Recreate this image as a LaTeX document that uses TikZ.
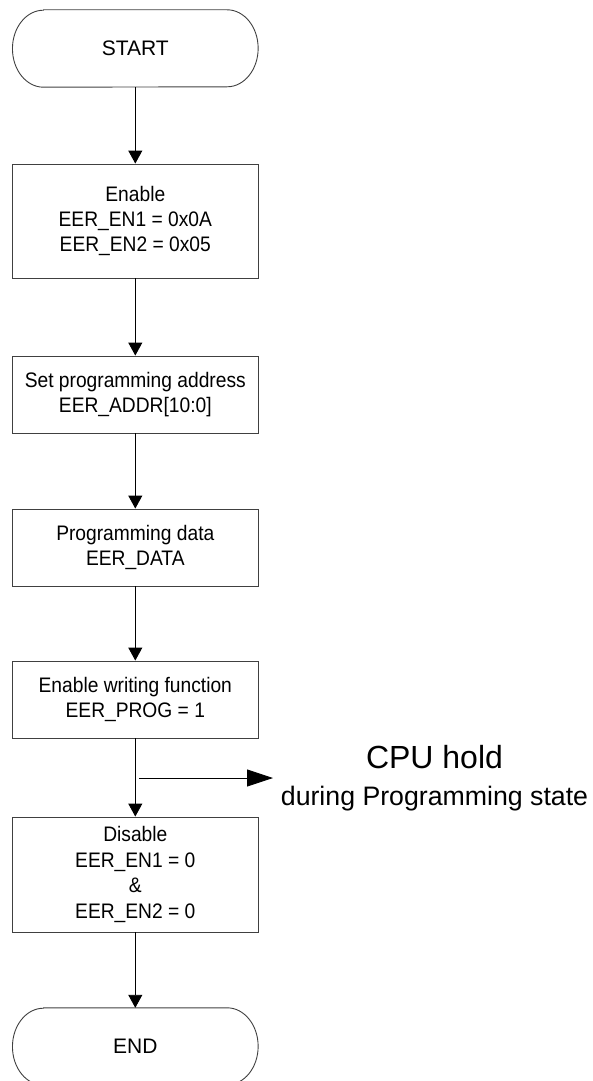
\documentclass[tikz,border=0pt]{standalone}
\usepackage{fontspec}
\setmainfont{Liberation Sans}
\newfontfamily\boxfont{Liberation Sans}[FakeStretch=0.915]
\usetikzlibrary{arrows.meta}
\begin{document}
\begin{tikzpicture}[x=1pt,y=-1pt,
  box/.style={draw=black!75, line width=0.9pt, minimum width=245.3pt, inner sep=0pt, align=center, font=\boxfont\fontsize{21}{25.4}\selectfont},
  term/.style={minimum width=245.3pt, minimum height=77pt, inner sep=0pt, font=\fontsize{21}{25.4}\selectfont},
  pill/.style={draw=black!75, line width=0.9pt},
  flow/.style={line width=0.9pt, -{Triangle[length=13pt,width=14pt]}},
  bigflow/.style={line width=0.9pt, -{Triangle[length=26pt,width=17pt]}},
]
\useasboundingbox (0,0) rectangle (593,1081);
\node[term] (start) at (135.3,48.5) {START};
\draw[pill] ([xshift=31pt]start.north west) -- ([xshift=-31pt]start.north east)
  arc[start angle=90,end angle=-90,x radius=31pt,y radius=38.5pt]
  -- ([xshift=31pt]start.south west)
  arc[start angle=270,end angle=90,x radius=31pt,y radius=38.5pt] -- cycle;

\node[box, minimum height=114pt] (en) at (135.3,221) {Enable\\EER\_EN1 = 0x0A\\EER\_EN2 = 0x05};
\node[box, minimum height=77pt] (addr) at (135.3,394.5) {Set programming address\\EER\_ADDR[10:0]};
\node[box, minimum height=77pt] (data) at (135.3,547.5) {Programming data\\EER\_DATA};
\node[box, minimum height=77pt] (prog) at (135.3,699.5) {Enable writing function\\EER\_PROG = 1};
\node[box, minimum height=115pt] (dis) at (135.3,874.5) {Disable\\EER\_EN1 = 0\\\&\\EER\_EN2 = 0};

\node[term] (end) at (135.3,1046.5) {END};
\draw[pill] ([xshift=31pt]end.north west) -- ([xshift=-31pt]end.north east)
  arc[start angle=90,end angle=-90,x radius=31pt,y radius=38.5pt]
  -- ([xshift=31pt]end.south west)
  arc[start angle=270,end angle=90,x radius=31pt,y radius=38.5pt] -- cycle;

\draw[flow] (start) -- (en);
\draw[flow] (en) -- (addr);
\draw[flow] (addr) -- (data);
\draw[flow] (data) -- (prog);
\draw[flow] (prog) -- (dis);
\draw[flow] (dis) -- (end);

\coordinate (hs) at (139,778);
\coordinate (he) at (273,778);
\draw[bigflow] (hs) -- (he);
\node[anchor=base, inner sep=0pt, font=\fontsize{32}{37}\selectfont] (hold) at (434.5,768) {CPU hold};
\node[anchor=base, inner sep=0pt, font=\fontsize{26.7}{31}\selectfont] (during) at (434.5,805) {during Programming state};
\end{tikzpicture}
\end{document}
